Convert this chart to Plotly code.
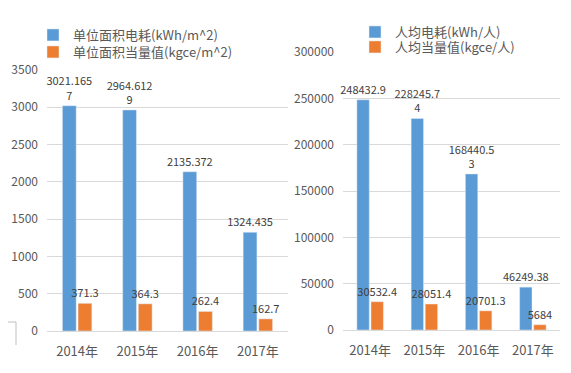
import plotly.graph_objects as go

years = ["2014年", "2015年", "2016年", "2017年"]

area_elec = [3021.1657, 2964.6129, 2135.372, 1324.435]
area_elec_text = ["3021.165<br>7", "2964.612<br>9", "2135.372", "1324.435"]
area_coal = [371.3, 364.3, 262.4, 162.7]
area_coal_text = ["371.3", "364.3", "262.4", "162.7"]

person_elec = [248432.9, 228245.74, 168440.53, 46249.38]
person_elec_text = ["248432.9", "228245.7<br>4", "168440.5<br>3", "46249.38"]
person_coal = [30532.4, 28051.4, 20701.3, 5684]
person_coal_text = ["30532.4", "28051.4", "20701.3", "5684"]

BLUE = "#5B9BD5"
ORANGE = "#ED7D31"
TXT = "#404040"
FONT = "Noto Sans CJK SC"

W, H = 571, 373
OFF = 8  # page body margin shifts the figure by 8px right and down
def px(x): return (x - OFF) / W
def py(y): return (H - (y - OFF)) / H

def bar(x, y, name, color, text, xa, ya, lg):
    return go.Bar(x=x, y=y, name=name, marker_color=color, text=text,
                  textposition="outside", cliponaxis=False, constraintext="none",
                  textfont=dict(size=11, color=TXT, family=FONT),
                  xaxis=xa, yaxis=ya, legend=lg)

fig = go.Figure()
fig.add_trace(bar(years, area_elec, "单位面积电耗(kWh/m^2)", BLUE, area_elec_text, "x", "y", "legend"))
fig.add_trace(bar(years, area_coal, "单位面积当量值(kgce/m^2)", ORANGE, area_coal_text, "x", "y", "legend2"))
fig.add_trace(bar(years, person_elec, "人均电耗(kWh/人)", BLUE, person_elec_text, "x2", "y2", "legend3"))
fig.add_trace(bar(years, person_coal, "人均当量值(kgce/人)", ORANGE, person_coal_text, "x2", "y2", "legend4"))

ytick = dict(showline=False, zeroline=False, ticks="", ticklabelstandoff=8, automargin=False,
             tickfont=dict(size=12, color="#595959", family=FONT), gridcolor="#D9D9D9")
xtick = dict(showgrid=False, showline=True, linecolor="#D9D9D9", ticks="", ticklabelstandoff=8,
             automargin=False, tickfont=dict(size=13, color="#595959", family=FONT))

def leg(x, y, size):
    return dict(x=px(x), y=py(y), xanchor="left", yanchor="middle", orientation="v",
                font=dict(size=size, color="#595959", family=FONT), bgcolor="rgba(0,0,0,0)",
                itemwidth=30)

fig.update_layout(
    width=W, height=H, margin=dict(l=0, r=0, t=0, b=0, autoexpand=False),
    paper_bgcolor="white", plot_bgcolor="white",
    font=dict(family=FONT, color="#595959"),
    barmode="group", bargap=0.48, bargroupgap=0.12, showlegend=True,
    xaxis=dict(domain=[px(47), px(288)], anchor="y", **xtick),
    yaxis=dict(domain=[py(331), py(70)], anchor="x", range=[0, 3500], dtick=500, **ytick),
    xaxis2=dict(domain=[px(343), px(560)], anchor="y2", **xtick),
    yaxis2=dict(domain=[py(330), py(52)], anchor="x2", range=[0, 300000], dtick=50000,
                tickformat="d", **ytick),
    legend=leg(33, 35, 13),
    legend2=leg(33, 52, 13),
    legend3=leg(355, 32, 13),
    legend4=leg(355, 47, 13),
    shapes=[
        dict(type="line", xref="paper", yref="paper", x0=px(0), x1=px(16), y0=py(322), y1=py(322),
             line=dict(color="#BFBFBF", width=1)),
        dict(type="line", xref="paper", yref="paper", x0=px(16), x1=px(16), y0=py(322), y1=py(345),
             line=dict(color="#BFBFBF", width=1)),
        dict(type="line", xref="paper", yref="paper", x0=px(568), x1=px(568), y0=py(320), y1=py(350),
             line=dict(color="#BFBFBF", width=1)),
    ],
)

fig.write_html("out.html")
